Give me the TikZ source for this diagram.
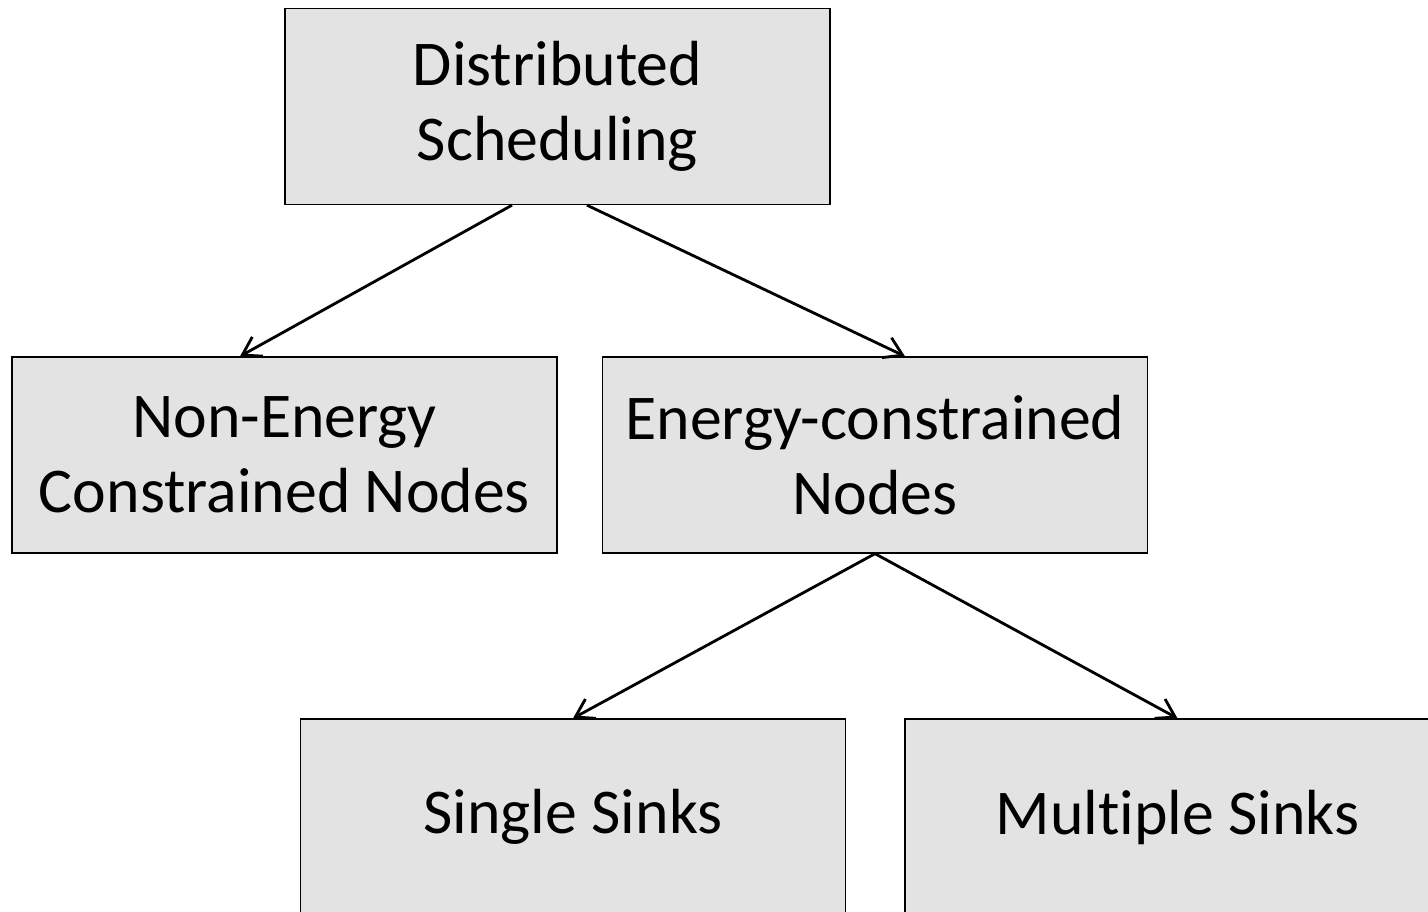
\documentclass[tikz,border=0pt]{standalone}
\usepackage{fontspec}
\setmainfont[Ligatures=NoCommon]{Carlito}
\usepackage{tikz}
\usetikzlibrary{arrows.meta,positioning}
\definecolor{boxgray}{HTML}{E3E3E3}

\begin{document}
\begin{tikzpicture}[
  x=0.02cm, y=-0.02cm,
  every node/.style={font=\fontsize{36.3}{42.5}\selectfont},
  box/.style={rectangle, draw, line width=0.8pt, fill=boxgray, align=center,
              minimum width=10.9cm, minimum height=3.92cm, inner sep=0pt},
  arr/.style={-{Straight Barb[length=3.5mm,width=4.4mm]}, line width=1.6pt}
]
\useasboundingbox (0,0) rectangle (1428,912);
\clip (0,0) rectangle (1428,912);

% ---- Level 0 ----
\node[box] (sched) at (557.5,106.5) {Distributed\\Scheduling};

% ---- Level 1 ----
\node[box] (nonenergy) at (284.5,455) {Non-Energy\\Constrained Nodes};
\node[box] (energy) at (875,455) {Energy-constrained\\Nodes};
\draw[arr] ([xshift=-0.91cm]sched.south) -- ([xshift=-0.89cm]nonenergy.north);
\draw[arr] ([xshift=0.59cm]sched.south) -- ([xshift=0.6cm]energy.north);

% ---- Level 2 ----
\node[box] (single) at (573,817) {Single Sinks};
\node[box] (multiple) at (1177.5,817) {Multiple Sinks};
\draw[arr] (energy.south) -- (single.north);
\draw[arr] (energy.south) -- (multiple.north);

\end{tikzpicture}
\end{document}
